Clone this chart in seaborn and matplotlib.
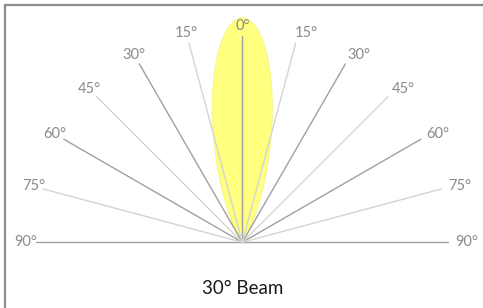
import numpy as np
import pandas as pd
import matplotlib
matplotlib.use("Agg")
import matplotlib.pyplot as plt
from matplotlib.patches import Rectangle
import seaborn as sns

# ray angles from vertical, degrees (negative = left side)
angles = [-90, -75, -60, -45, -30, -15, 0, 15, 30, 45, 60, 75, 90]
labels = ["90°", "75°", "60°", "45°", "30°", "15°", "0°", "15°", "30°", "45°", "60°", "75°", "90°"]
shade = ["dark", "light", "dark", "light", "dark", "light", "dark",
         "light", "dark", "light", "dark", "light", "dark"]
beam_angle = 30
title = "30° Beam"

sns.set_theme(style="white")
plt.rcParams["font.family"] = ["Lato", "DejaVu Sans"]

fig = plt.figure(figsize=(4.83, 3.08), dpi=100)
ax = fig.add_axes([0, 0, 1, 1])

# rays as a long table, one unit per angle
rows = []
for a, s in zip(angles, shade):
    t = np.deg2rad(a)
    rows.append({"ray": a, "x": 0.0, "y": 0.0, "shade": s, "step": 0})
    rows.append({"ray": a, "x": np.sin(t), "y": np.cos(t), "shade": s, "step": 1})
rays = pd.DataFrame(rows)

# beam lobe: r = cos^n(theta), half power at beam_angle / 2
n = np.log(0.5) / np.log(np.cos(np.deg2rad(beam_angle / 2)))
th = np.linspace(-np.pi / 2, np.pi / 2, 400)
r = np.cos(th) ** n * 1.09
ax.fill(r * np.sin(th), r * np.cos(th), color="#ffff80", lw=0.6,
        ec="#f4f48a", zorder=1)

sns.lineplot(data=rays, x="x", y="y", units="ray", hue="shade", estimator=None,
             sort=False, palette={"dark": "#a0a0a0", "light": "#d4d4d4"},
             lw=1, legend=False, ax=ax, zorder=2)

for a, lab in zip(angles, labels):
    t = np.deg2rad(a)
    rl = 1.05
    dx = 6 if a > 0 else 0
    ax.annotate(lab, (rl * np.sin(t), rl * np.cos(t)), xytext=(dx, 0),
                textcoords="offset points", ha="center", va="center",
                fontsize=10.5, color="#8a8a8a")

ax.text(0, -0.225, title, ha="center", va="center", fontsize=13.5, color="#1a1a1a")

ax.set_xlim(-1.176, 1.168)
ax.set_ylim(-0.319, 1.176)
ax.set_axis_off()

# grey frame (top and left visible)
fig.patches.append(Rectangle((5 / 483, -0.1), 1.2, (308 - 5) / 308 + 0.1,
                             transform=fig.transFigure, fill=False,
                             ec="#8c8c8c", lw=1.6))

fig.savefig("out.png", dpi=100)
